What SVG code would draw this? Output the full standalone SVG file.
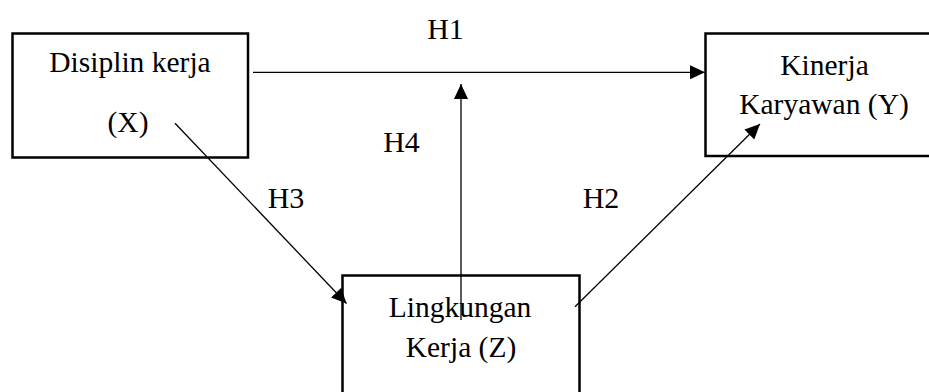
<svg xmlns="http://www.w3.org/2000/svg" width="929" height="392" viewBox="0 0 929 392">
<style>
.box{fill:#fff;stroke:#000;stroke-width:2.5}
text{font-family:'Liberation Serif','Times New Roman',Times,serif;fill:#000;text-anchor:middle}
.lbl{font-size:29.5px}
.h{font-size:30px}
.c{stroke:#000;stroke-width:1.3;fill:none;marker-end:url(#ah)}
</style>
<defs>
<marker id="ah" markerUnits="userSpaceOnUse" markerWidth="16" markerHeight="14" refX="15" refY="7" orient="auto">
<path d="M0,0 L15,7 L0,14 Z" fill="#000"/>
</marker>
</defs>
<rect width="929" height="392" fill="#fff"/>
<g id="nodeX">
<rect class="box" x="12.5" y="33.5" width="235.5" height="124"/>
<text class="lbl" x="130" y="71.5" font-family="Liberation Serif, serif">Disiplin kerja</text>
<text class="lbl" x="128" y="131.5" font-family="Liberation Serif, serif">(X)</text>
</g>
<g id="nodeY">
<rect class="box" x="705.5" y="33.5" width="240" height="122.5"/>
<text class="lbl" x="824.5" y="75" font-family="Liberation Serif, serif">Kinerja</text>
<text class="lbl" x="824" y="113.5" font-family="Liberation Serif, serif">Karyawan (Y)</text>
</g>
<g id="nodeZ">
<rect class="box" x="342.5" y="275.5" width="237" height="140"/>
<text class="lbl" x="460" y="316.5" font-family="Liberation Serif, serif">Lingkungan</text>
<text class="lbl" x="461" y="356.5" font-family="Liberation Serif, serif">Kerja (Z)</text>
</g>
<g id="connectors">
<line class="c" x1="253" y1="72.3" x2="705" y2="72.3"/>
<line class="c" x1="461" y1="320" x2="461" y2="84"/>
<line class="c" x1="175" y1="123.3" x2="346.5" y2="303.5"/>
<line class="c" x1="575" y1="306.7" x2="760" y2="124"/>
</g>
<g id="labels">
<text class="h" x="445.5" y="38.5" font-family="Liberation Serif, serif">H1</text>
<text class="h" x="401.5" y="152.3" font-family="Liberation Serif, serif">H4</text>
<text class="h" x="286" y="207.7" font-family="Liberation Serif, serif">H3</text>
<text class="h" x="601" y="208.3" font-family="Liberation Serif, serif">H2</text>
</g>
</svg>
